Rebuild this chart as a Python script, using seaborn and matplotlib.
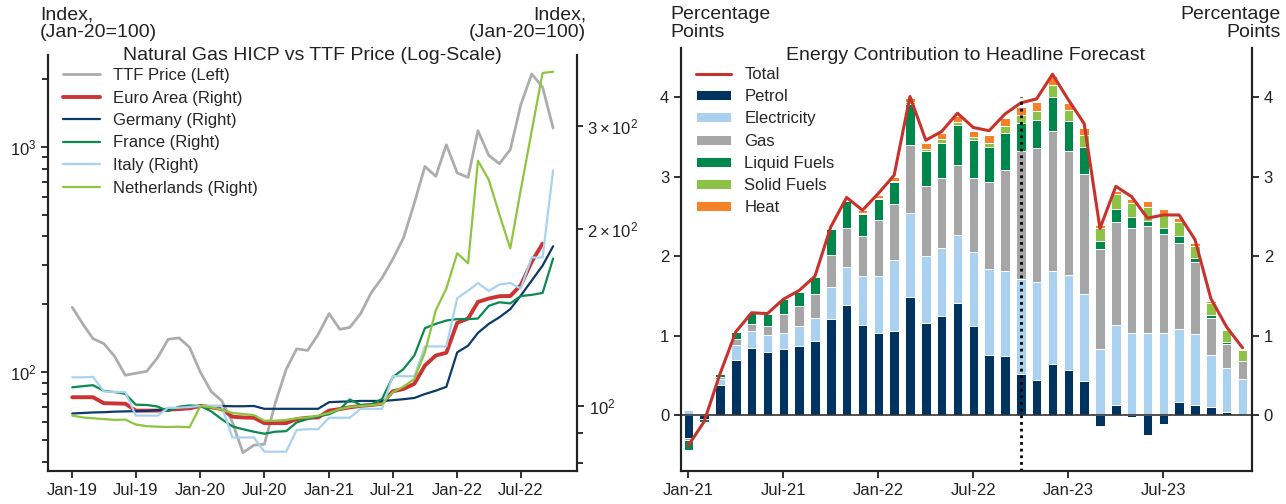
import numpy as np
import pandas as pd
import seaborn as sns
import matplotlib.pyplot as plt
import matplotlib.dates as mdates

sns.set_theme(style='ticks')
plt.rcParams['font.family'] = ['Liberation Sans', 'DejaVu Sans']
plt.rcParams['mathtext.fontset'] = 'custom'
plt.rcParams['mathtext.rm'] = 'Liberation Sans'
plt.rcParams['mathtext.it'] = 'Liberation Sans:italic'
plt.rcParams['mathtext.bf'] = 'Liberation Sans:bold'
plt.rcParams['mathtext.sf'] = 'Liberation Sans'

# ---- left panel: monthly index, Jan-19 .. Oct-22 (Jan-20 = 100)
ttf = [194, 163, 141, 134, 118, 97, 99, 101, 116, 140, 142, 129,
       100, 82, 75, 60, 44, 47.5, 48, 73, 103, 127, 125, 147,
       182, 155, 158, 182, 225, 262, 316, 394, 563, 818, 739, 1020,
       765, 731, 1177, 915, 841, 970, 1534, 2103, 1837, 1210]
euro_area = [103.5, 103.5, 103.5, 101.1, 101.0, 100.9, 98.2, 98.2, 98.2, 98.6, 98.8, 99.1,
             100, 99.5, 98.8, 95.9, 95.6, 95.5, 93.5, 93.5, 93.5, 95.0, 95.5, 95.6,
             98.2, 98.8, 99.5, 100.0, 100.4, 100.9, 105.9, 106.9, 109.1, 117.2, 121.9, 123.2,
             138.6, 140.9, 150.4, 152.4, 153.8, 153.9, 160.6, 176, 189]
germany = [97.1, 97.3, 97.5, 97.6, 97.8, 97.9, 98.0, 98.1, 98.4, 98.9, 99.3, 99.7,
           100, 100, 100, 99.9, 99.9, 100, 98.9, 98.9, 98.9, 98.9, 98.9, 98.9,
           101.5, 101.7, 101.8, 102.0, 102.0, 102.0, 102.3, 102.7, 103.2, 104.8, 106.2, 107.8,
           123.4, 126.7, 133.2, 138.0, 141.6, 146.2, 154.2, 163.5, 173.4, 187.1]
france = [107.6, 108.1, 108.5, 106.1, 105.6, 104.9, 100.5, 100.4, 99.8, 98.0, 99.7, 100.2,
          100, 97.9, 95.0, 92.3, 91.3, 90.4, 89.7, 90.4, 90.6, 93.8, 95.0, 96.0,
          96.8, 98.7, 102.6, 100.4, 100.6, 102.8, 111.9, 115.6, 121.9, 135.7, 138.0, 139.8,
          140.6, 140.6, 140.9, 148.1, 150.2, 149.5, 153.9, 154.6, 155.8, 178.3]
italy = [111.9, 111.9, 112.1, 105.9, 105.6, 105.6, 96.3, 96.3, 96.3, 99.3, 99.3, 99.6,
         100, 100, 100, 88.4, 88.4, 88.4, 83.6, 83.6, 83.6, 91.0, 91.3, 91.3,
         95.5, 95.5, 95.5, 98.9, 98.9, 98.9, 112.4, 112.4, 112.4, 126.3, 126.3, 126.3,
         152.6, 157.2, 161.9, 157.0, 161.0, 162.0, 158.5, 179, 179, 251.8]
netherlands = [96.3, 95.6, 95.3, 95.0, 94.7, 94.8, 93.0, 92.4, 92.2, 92.1, 92.2, 92.0,
               100, 99.5, 98.6, 97.3, 96.9, 96.5, 94.4, 94.4, 94.7, 95.3, 95.6, 96.3,
               97.3, 98.8, 99.6, 100.0, 100.3, 100.8, 105.5, 107.9, 111.2, 123.5, 145.5, 158.5,
               182, 175, 261.6, 242.7, 212, 185.5, 233.5, 293.8, 369, 370.8]
dates = pd.date_range('2019-01-01', periods=len(ttf), freq='MS')

# ---- right panel: contributions, Jan-21 .. Dec-23 (percentage points)
total = [-0.38, -0.08, 0.52, 1.05, 1.29, 1.28, 1.46, 1.57, 1.75, 2.37, 2.74, 2.58,
         2.79, 3.02, 4.01, 3.46, 3.57, 3.80, 3.62, 3.58, 3.79, 3.93, 3.98, 4.29,
         3.97, 3.67, 2.35, 2.88, 2.75, 2.48, 2.52, 2.52, 2.21, 1.47, 1.11, 0.85]
petrol = [-0.28, -0.04, 0.38, 0.69, 0.85, 0.80, 0.84, 0.87, 0.94, 1.21, 1.39, 1.14,
          1.03, 1.06, 1.49, 1.16, 1.25, 1.41, 1.12, 0.76, 0.75, 0.52, 0.44, 0.64,
          0.57, 0.43, -0.14, 0.13, -0.02, -0.25, -0.11, 0.17, 0.13, 0.10, 0.04, 0.0]
electricity = [0.07, 0.01, 0.08, 0.19, 0.21, 0.21, 0.20, 0.25, 0.29, 0.40, 0.48, 0.61,
               0.72, 0.90, 1.06, 0.84, 0.85, 0.86, 0.93, 1.08, 1.07, 1.20, 1.24, 1.18,
               1.19, 1.09, 0.84, 1.01, 1.04, 1.04, 1.04, 0.92, 0.89, 0.66, 0.55, 0.46]
gas = [-0.03, -0.01, 0.02, 0.08, 0.09, 0.11, 0.24, 0.26, 0.30, 0.41, 0.48, 0.50,
       0.71, 0.70, 0.85, 0.88, 0.89, 0.88, 0.94, 1.09, 1.27, 1.60, 1.68, 1.75,
       1.56, 1.51, 1.25, 1.29, 1.31, 1.34, 1.24, 1.08, 0.91, 0.47, 0.31, 0.22]
liquid_fuels = [-0.12, -0.03, 0.04, 0.09, 0.14, 0.15, 0.18, 0.17, 0.21, 0.32, 0.35, 0.28,
                0.26, 0.27, 0.52, 0.44, 0.44, 0.50, 0.47, 0.44, 0.46, 0.36, 0.35, 0.43,
                0.38, 0.34, 0.10, 0.17, 0.15, 0.06, 0.07, 0.08, 0.05, 0.03, 0.02, 0.0]
solid_fuels = [0, 0, 0, 0, 0, 0, 0, 0, 0, 0, 0, 0.02,
               0.01, 0.02, 0.02, 0.03, 0.04, 0.04, 0.04, 0.06, 0.09, 0.10, 0.12, 0.15,
               0.14, 0.16, 0.16, 0.18, 0.17, 0.18, 0.18, 0.18, 0.15, 0.15, 0.15, 0.14]
heat = [0, 0, 0, 0, 0, 0, 0, 0, 0, 0.02, 0.01, 0.03,
        0.04, 0.05, 0.05, 0.07, 0.08, 0.08, 0.07, 0.10, 0.10, 0.10, 0.11, 0.12,
        0.09, 0.08, 0.05, 0.04, 0.05, 0.07, 0.06, 0.05, 0.04, 0.03, 0.01, 0.01]
months = list(pd.date_range('2021-01-01', periods=len(total), freq='MS').strftime('%b-%y'))
forecast_start = 'Oct-22'

W, H = 1286, 504
fig = plt.figure(figsize=(W / 100, H / 100), dpi=100)
ink = '#222222'

# ================= left panel
ax = fig.add_axes([48 / W, 33 / H, 529 / W, 416 / H])
ax2 = ax.twinx()

sns.lineplot(x=dates, y=ttf, color='#adadad', lw=2, label='TTF Price (Left)', ax=ax)
right_series = [('Euro Area (Right)', euro_area, '#cc3333', 2.8),
                ('Germany (Right)', germany, '#0b3a6a', 1.6),
                ('France (Right)', france, '#0a8a4f', 1.6),
                ('Italy (Right)', italy, '#a8d2f0', 1.6),
                ('Netherlands (Right)', netherlands, '#8cc63e', 1.6)]
for name, vals, col, lw in right_series:
    sns.lineplot(x=dates[:len(vals)], y=vals, color=col, lw=lw, label=name, ax=ax2)

ax.set_yscale('log')
ax2.set_yscale('log')
ax.set_ylim(36.5, 2550)
ax2.set_ylim(77.5, 396)
ax.set_xlim(pd.Timestamp('2018-10-24'), pd.Timestamp('2022-12-08'))
ax.xaxis.set_major_locator(mdates.MonthLocator(bymonth=[1, 7]))
ax.xaxis.set_major_formatter(mdates.DateFormatter('%b-%y'))
for a in (ax, ax2):
    a.set_xlabel('')
    a.set_ylabel('')
    a.spines['top'].set_visible(False)
    for s in a.spines.values():
        s.set_color(ink)
        s.set_linewidth(1.5)
    a.tick_params(which='both', direction='out', colors=ink, labelsize=12, width=1.3)
    a.tick_params(which='major', length=5)
    a.tick_params(which='minor', length=4)
    if a.get_legend():
        a.get_legend().remove()

h1, l1 = ax.get_legend_handles_labels()
h2, l2 = ax2.get_legend_handles_labels()
ax2.legend(h1 + h2, l1 + l2, loc='upper left', bbox_to_anchor=(63 / W, 1 - 68 / H),
           bbox_transform=fig.transFigure, frameon=False, fontsize=12,
           labelspacing=0.45, handlelength=2.2, handletextpad=0.8, borderpad=0,
           borderaxespad=0)

# ================= right panel
axr = fig.add_axes([681 / W, 33 / H, 571 / W, 423 / H])
components = [('Petrol', petrol, '#00335f'),
              ('Electricity', electricity, '#aad2f0'),
              ('Gas', gas, '#a6a6a6'),
              ('Liquid Fuels', liquid_fuels, '#00874b'),
              ('Solid Fuels', solid_fuels, '#8cc346'),
              ('Heat', heat, '#f58228')]
pos_base = np.zeros(len(months))
neg_base = np.zeros(len(months))
for name, vals, col in components:
    v = np.asarray(vals, dtype=float)
    base = np.where(v >= 0, pos_base, neg_base)
    sns.barplot(x=months, y=v, bottom=base, color=col, saturation=1, width=0.6,
                errorbar=None, edgecolor='white', linewidth=0.7, label=name, ax=axr)
    pos_base += np.clip(v, 0, None)
    neg_base += np.clip(v, None, 0)

sns.lineplot(x=months, y=total, color='#c8322d', lw=2.2, sort=False, label='Total', ax=axr)
axr.axhline(0, color='#333333', lw=1.2, zorder=1)
axr.vlines(forecast_start, -0.7, 4.0, colors='black', linestyles=(0, (1, 1.4)), lw=2, zorder=5)

axr.set_xlim(-0.46, 35.6)
axr.set_ylim(-0.7, 4.62)
axr.set_yticks([0, 1, 2, 3, 4])
axr.set_xticks(months[::6])
axr.set_xlabel('')
axr.set_ylabel('')
axr_r = axr.twinx()
axr_r.set_ylim(axr.get_ylim())
axr_r.set_yticks([0, 1, 2, 3, 4])
for a in (axr, axr_r):
    a.spines['top'].set_visible(False)
    for s in a.spines.values():
        s.set_color(ink)
        s.set_linewidth(1.5)
    a.tick_params(direction='out', colors=ink, labelsize=12, width=1.3, length=5)

hr, lr = axr.get_legend_handles_labels()
order = [lr.index('Total')] + [lr.index(c[0]) for c in components]
axr.legend([hr[i] for i in order], [lr[i] for i in order], loc='upper left',
           bbox_to_anchor=(696 / W, 1 - 67 / H), bbox_transform=fig.transFigure,
           frameon=False, fontsize=12, labelspacing=0.43, handlelength=2.1,
           handleheight=0.55, handletextpad=0.8, borderpad=0, borderaxespad=0)

# ================= titles and corner labels
fig.text(312 / W, 1 - 60 / H, 'Natural Gas HICP vs TTF Price (Log-Scale)', ha='center',
         va='baseline', fontsize=14, color=ink)
fig.text(966 / W, 1 - 60 / H, 'Energy Contribution to Headline Forecast', ha='center',
         va='baseline', fontsize=14, color=ink)
corner = dict(va='top', fontsize=14, linespacing=1.08, color=ink)
fig.text(40 / W, 1 - 6 / H, 'Index,\n(Jan-20=100)', ha='left', **corner)
fig.text(586 / W, 1 - 6 / H, 'Index,\n(Jan-20=100)', ha='right', multialignment='right', **corner)
fig.text(670 / W, 1 - 6 / H, 'Percentage\nPoints', ha='left', **corner)
fig.text(1281 / W, 1 - 6 / H, 'Percentage\nPoints', ha='right', multialignment='right', **corner)

fig.savefig('out.png', dpi=100, facecolor='white')
